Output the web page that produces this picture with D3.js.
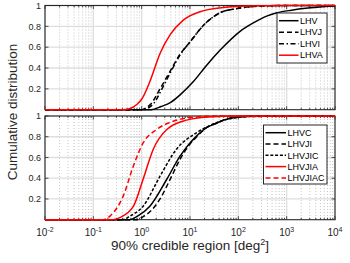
<!DOCTYPE html>
<html><head><meta charset="utf-8">
<script src="https://cdn.jsdelivr.net/npm/d3@7"></script>
<style>body{margin:0;background:#fff}svg{display:block}text{font-family:"Liberation Sans",Arial,sans-serif}</style>
</head><body><svg id="c" width="350" height="263"></svg>
<script>
// x tick exponents (log10 of deg^2)
const xTickExps = [-2, -1, 0, 1, 2, 3, 4];
const yTicks = [0.2, 0.4, 0.6, 0.8, 1];
const yTickLabels = ["0.2", "0.4", "0.6", "0.8", "1"];

// ---- top panel series: log10(area), cdf
const topNames = ["LHV", "LHVJ", "LHVI", "LHVA"];
const lhvLog = [-2, 0.2, 0.4, 0.6, 0.79, 1.07, 1.35, 1.62, 2.03, 2.3, 2.6, 2.8, 3.1, 3.44, 3.8, 4];
const lhvCdf = [0, 0, 0.03, 0.07, 0.14, 0.27, 0.43, 0.57, 0.75, 0.83, 0.9, 0.93, 0.955, 0.975, 0.99, 0.995];
const lhvjLog = [-2, 0, 0.1, 0.2, 0.38, 0.59, 0.79, 1.0, 1.28, 1.62, 1.97, 2.3, 3, 4];
const lhvjCdf = [0, 0, 0.02, 0.06, 0.2, 0.37, 0.53, 0.65, 0.81, 0.93, 0.97, 0.99, 1, 1];
const lhviLog = [-2, 0.05, 0.15, 0.25, 0.42, 0.61, 0.8, 1.0, 1.28, 1.62, 1.97, 2.3, 3, 4];
const lhviCdf = [0, 0, 0.02, 0.06, 0.2, 0.37, 0.53, 0.65, 0.81, 0.93, 0.97, 0.99, 1, 1];
const lhvaLog = [-2, -0.4, -0.25, -0.1, 0, 0.17, 0.38, 0.59, 0.86, 1.21, 1.69, 2.2, 3, 4];
const lhvaCdf = [0, 0, 0.01, 0.05, 0.1, 0.27, 0.54, 0.72, 0.86, 0.94, 0.98, 0.995, 1, 1];

// ---- bottom panel series
const botNames = ["LHVC", "LHVJI", "LHVJIC", "LHVJIA", "LHVJIAC"];
const lhvcLog = [-2, -0.25, -0.1, 0.17, 0.52, 0.79, 1.14, 1.35, 1.55, 1.69, 2, 2.5, 4];
const lhvcCdf = [0, 0, 0.03, 0.13, 0.39, 0.61, 0.81, 0.89, 0.93, 0.96, 0.99, 1, 1];
const lhvjiLog = [-2, -0.1, 0.03, 0.2, 0.38, 0.59, 0.79, 1.0, 1.14, 1.35, 1.55, 1.69, 2, 2.5, 4];
const lhvjiCdf = [0, 0, 0.03, 0.09, 0.2, 0.39, 0.58, 0.73, 0.8, 0.89, 0.93, 0.96, 0.99, 1, 1];
const lhvjicLog = [-2, -0.4, -0.24, 0.03, 0.38, 0.72, 1.14, 1.55, 1.8, 2.2, 4];
const lhvjicCdf = [0, 0, 0.035, 0.13, 0.42, 0.68, 0.84, 0.935, 0.97, 0.995, 1];
const lhvjiaLog = [-2, -0.6, -0.45, -0.17, 0.03, 0.24, 0.52, 0.93, 1.38, 2, 4];
const lhvjiaCdf = [0, 0, 0.02, 0.13, 0.39, 0.68, 0.87, 0.96, 0.99, 1, 1];
const lhvjiacLog = [-2, -0.8, -0.655, -0.38, -0.17, 0.03, 0.31, 0.655, 1.1, 1.6, 4];
const lhvjiacCdf = [0, 0, 0.035, 0.23, 0.52, 0.74, 0.87, 0.95, 0.99, 1, 1];

const svg = d3.select("#c");
const L = 45, R = 335;
const x = d3.scaleLog().domain([1e-2, 1e4]).range([L, R]);
const axisCol = "#262626";

function zip(lg, c) { return lg.map((v, i) => ({ x: Math.pow(10, v), y: c[i] })); }

function panel(top, bottom, series, legend, idx) {
  const y = d3.scaleLinear().domain([0, 1]).range([bottom, top]);
  const g = svg.append("g");
  const cid = "clip" + idx;
  g.append("clipPath").attr("id", cid).append("rect")
    .attr("x", L).attr("y", top - 2).attr("width", R - L).attr("height", bottom - top + 4);
  g.append("rect").attr("x", L).attr("y", top).attr("width", R - L).attr("height", bottom - top).attr("fill", "#fff");
  // minor grid
  const minors = [];
  for (let e = -2; e < 4; e++) for (let m = 2; m <= 9; m++) minors.push(m * Math.pow(10, e));
  g.selectAll(".mg").data(minors).enter().append("line")
    .attr("x1", d => x(d)).attr("x2", d => x(d)).attr("y1", top).attr("y2", bottom)
    .attr("stroke", "#b8b8b8").attr("stroke-width", 0.8).attr("stroke-dasharray", "1,2");
  // major grid
  g.selectAll(".gx").data(xTickExps).enter().append("line")
    .attr("x1", d => x(Math.pow(10, d))).attr("x2", d => x(Math.pow(10, d))).attr("y1", top).attr("y2", bottom)
    .attr("stroke", "#dedede").attr("stroke-width", 1.3);
  g.selectAll(".gy").data(yTicks).enter().append("line")
    .attr("x1", L).attr("x2", R).attr("y1", d => y(d)).attr("y2", d => y(d))
    .attr("stroke", "#dedede").attr("stroke-width", 1.3);
  // ticks inside, on all sides
  const tk = g.append("g").attr("stroke", axisCol).attr("stroke-width", 0.8);
  minors.forEach(d => {
    tk.append("line").attr("x1", x(d)).attr("x2", x(d)).attr("y1", bottom).attr("y2", bottom - 2);
    tk.append("line").attr("x1", x(d)).attr("x2", x(d)).attr("y1", top).attr("y2", top + 2);
  });
  xTickExps.forEach(e => {
    const xx = x(Math.pow(10, e));
    tk.append("line").attr("x1", xx).attr("x2", xx).attr("y1", bottom).attr("y2", bottom - 3.5);
    tk.append("line").attr("x1", xx).attr("x2", xx).attr("y1", top).attr("y2", top + 3.5);
  });
  yTicks.forEach(v => {
    tk.append("line").attr("x1", L).attr("x2", L + 3.5).attr("y1", y(v)).attr("y2", y(v));
    tk.append("line").attr("x1", R).attr("x2", R - 3.5).attr("y1", y(v)).attr("y2", y(v));
  });
  // box
  g.append("rect").attr("x", L).attr("y", top).attr("width", R - L).attr("height", bottom - top)
    .attr("fill", "none").attr("stroke", axisCol).attr("stroke-width", 1.1);
  // curves (drawn over the box, like the reference)
  const line = d3.line().x(d => x(d.x)).y(d => y(d.y)).curve(d3.curveMonotoneX);
  const cg = g.append("g").attr("clip-path", `url(#${cid})`);
  series.forEach(s => {
    cg.append("path").attr("d", line(zip(s.lg, s.c))).attr("fill", "none")
      .attr("stroke", s.col).attr("stroke-width", 1.5).attr("stroke-dasharray", s.dash || null);
  });
  // y labels
  g.selectAll(".yl").data(yTicks).enter().append("text")
    .attr("x", L - 4).attr("y", d => y(d) + 3.2).attr("text-anchor", "end")
    .attr("font-size", 9).attr("fill", axisCol).text((d, i) => yTickLabels[i]);
  // legend
  const lg = g.append("g");
  lg.append("rect").attr("x", legend.x).attr("y", legend.y).attr("width", legend.w).attr("height", legend.h)
    .attr("fill", "#fff").attr("stroke", axisCol).attr("stroke-width", 1);
  series.forEach((s, i) => {
    const yy = legend.y0 + i * legend.dy;
    lg.append("line").attr("x1", legend.lx1).attr("x2", legend.lx2).attr("y1", yy).attr("y2", yy)
      .attr("stroke", s.col).attr("stroke-width", 1.5).attr("stroke-dasharray", s.dash || null);
    lg.append("text").attr("x", legend.lx2 + 1.5).attr("y", yy + 3.2).attr("font-size", 9)
      .attr("fill", "#000").text(s.name);
  });
  return y;
}

const DASH = "5,3", DASHDOT = "5,2.5,1.5,2.5", DOT = "3,1.8";
panel(5.5, 109.7, [
  { name: topNames[0], lg: lhvLog, c: lhvCdf, col: "#000" },
  { name: topNames[1], lg: lhvjLog, c: lhvjCdf, col: "#000", dash: DASH },
  { name: topNames[2], lg: lhviLog, c: lhviCdf, col: "#000", dash: DASHDOT },
  { name: topNames[3], lg: lhvaLog, c: lhvaCdf, col: "#ff0000" }
], { x: 277, y: 13, w: 50, h: 50, lx1: 279, lx2: 298.5, y0: 20.7, dy: 11.5 }, 0);

panel(116, 219.7, [
  { name: botNames[0], lg: lhvcLog, c: lhvcCdf, col: "#000" },
  { name: botNames[1], lg: lhvjiLog, c: lhvjiCdf, col: "#000", dash: DASH },
  { name: botNames[2], lg: lhvjicLog, c: lhvjicCdf, col: "#000", dash: DOT },
  { name: botNames[3], lg: lhvjiaLog, c: lhvjiaCdf, col: "#ff0000" },
  { name: botNames[4], lg: lhvjiacLog, c: lhvjiacCdf, col: "#ff0000", dash: DASH }
], { x: 263.5, y: 125, w: 63.5, h: 59, lx1: 265.5, lx2: 286, y0: 132.7, dy: 11.3 }, 1);

// x tick labels
const xl = svg.append("g");
xTickExps.forEach(e => {
  const t = xl.append("text").attr("x", x(Math.pow(10, e))).attr("y", 236).attr("text-anchor", "middle")
    .attr("font-size", 10).attr("fill", axisCol);
  t.append("tspan").text("10");
  t.append("tspan").attr("dy", -4.5).attr("font-size", 7).text(String(e));
});
// axis labels
const xlab = svg.append("text").attr("x", 190).attr("y", 250).attr("text-anchor", "middle")
  .attr("font-size", 13.5).attr("fill", axisCol);
xlab.append("tspan").text("90% credible region [deg");
xlab.append("tspan").attr("dy", -5).attr("font-size", 9).text("2");
xlab.append("tspan").attr("dy", 5).text("]");
svg.append("text").attr("transform", "translate(17,112) rotate(-90)").attr("text-anchor", "middle")
  .attr("font-size", 13.5).attr("fill", axisCol).text("Cumulative distribution");
</script></body></html>
